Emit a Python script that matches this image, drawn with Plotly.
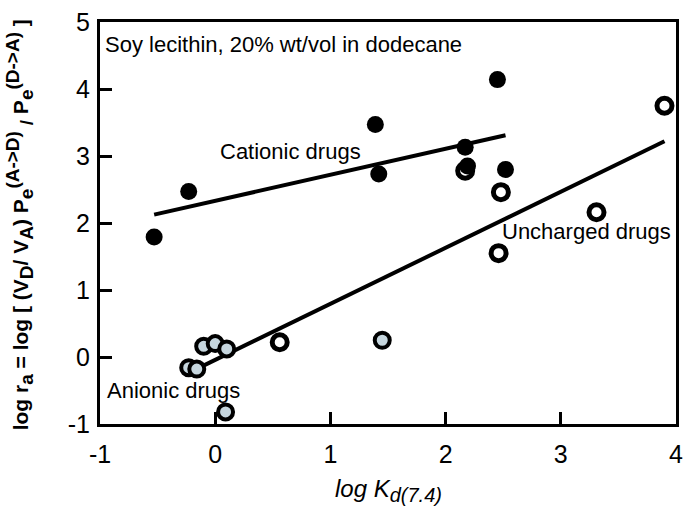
import plotly.graph_objects as go

# log Kd(7.4) vs log ra for three drug classes
cationic_x = [-0.53, -0.23, 1.39, 1.42, 2.17, 2.45, 2.19, 2.52]
cationic_y = [1.79, 2.47, 3.47, 2.73, 3.13, 4.14, 2.85, 2.80]

uncharged_x = [3.90, 2.48, 3.31, 2.46, 0.56, 2.17]
uncharged_y = [3.75, 2.46, 2.16, 1.55, 0.22, 2.78]

anionic_x = [1.45, -0.23, -0.16, -0.10, 0.00, 0.10, 0.09]
anionic_y = [0.25, -0.16, -0.18, 0.16, 0.20, 0.12, -0.82]

# regression lines: slope, intercept and x extent
cationic_fit = dict(slope=0.388, intercept=2.331, x=[-0.53, 2.52])
uncharged_fit = dict(slope=0.837, intercept=-0.044, x=[-0.16, 3.90])

x_ticks = [-1, 0, 1, 2, 3, 4]
x_labels = ["-1", "0", "1", "2", "3", "4"]
y_ticks = [-1, 0, 1, 2, 3, 4, 5]
y_labels = ["-1", "0", "1", "2", "3", "4", "5"]

FONT = "Liberation Sans, Arial, sans-serif"

fig = go.Figure()

for fit in (cationic_fit, uncharged_fit):
    xs = fit["x"]
    ys = [fit["slope"] * v + fit["intercept"] for v in xs]
    fig.add_trace(go.Scatter(x=xs, y=ys, mode="lines",
                             line=dict(color="black", width=4),
                             hoverinfo="skip"))

fig.add_trace(go.Scatter(x=uncharged_x, y=uncharged_y, mode="markers",
                         marker=dict(size=15, color="white",
                                     line=dict(color="black", width=5))))
fig.add_trace(go.Scatter(x=anionic_x, y=anionic_y, mode="markers",
                         marker=dict(size=15, color="#c6d6de",
                                     line=dict(color="black", width=4))))
fig.add_trace(go.Scatter(x=cationic_x, y=cationic_y, mode="markers",
                         marker=dict(size=17, color="black",
                                     line=dict(color="black", width=0))))

axis_common = dict(showline=True, linecolor="black", linewidth=3, mirror=True,
                   ticks="inside", ticklen=12, tickwidth=3, tickcolor="black",
                   showgrid=False, zeroline=False, automargin=False,
                   tickfont=dict(family=FONT, size=25, color="black"))

fig.update_xaxes(range=[-1, 4], tickvals=x_ticks, ticktext=x_labels,
                 ticklabelstandoff=6, **axis_common)
fig.update_yaxes(range=[-1, 5], tickvals=y_ticks, ticktext=y_labels,
                 ticklabelstandoff=2, **axis_common)

annotations = [
    dict(text="Soy lecithin, 20% wt/vol in dodecane", x=-0.97, y=4.66),
    dict(text="Cationic drugs", x=0.02, y=3.07),
    dict(text="Uncharged drugs", x=2.47, y=1.87),
    dict(text="Anionic drugs", x=-0.96, y=-0.50),
]
for a in annotations:
    a.update(xref="x", yref="y", showarrow=False, xanchor="left",
             yanchor="middle",
             font=dict(family=FONT, size=22, color="black"))

SUB = "<sub><span style='font-size:19px'>{}</span></sub>"
SUP = "<sup><span style='font-size:19px'>{}</span></sup>"

annotations.append(dict(
    text="<i>log K" + "<sub><span style='font-size:20px'>d(7.4)</span></sub></i>",
    xref="paper", yref="paper",
    x=0.50, y=-0.165, xanchor="center", yanchor="middle", showarrow=False,
    font=dict(family=FONT, size=24, color="black")))
annotations.append(dict(
    text="<b>log r" + SUB.format("a") + " = log [ (V" + SUB.format("D")
         + "/ V" + SUB.format("A") + ") P" + SUB.format("e")
         + SUP.format("(A-&gt;D)") + " " + SUB.format("/") + " P"
         + SUB.format("e") + SUP.format("(D-&gt;A)") + " ]</b>",
    xref="paper", yref="paper", x=-0.14, y=0.495, textangle=-90,
    xanchor="center", yanchor="middle", showarrow=False,
    font=dict(family=FONT, size=21, color="black")))

fig.update_layout(width=686, height=524, showlegend=False,
                  plot_bgcolor="white", paper_bgcolor="white",
                  margin=dict(l=100, r=10, t=22, b=100),
                  annotations=annotations)

fig.write_html("out.html")
